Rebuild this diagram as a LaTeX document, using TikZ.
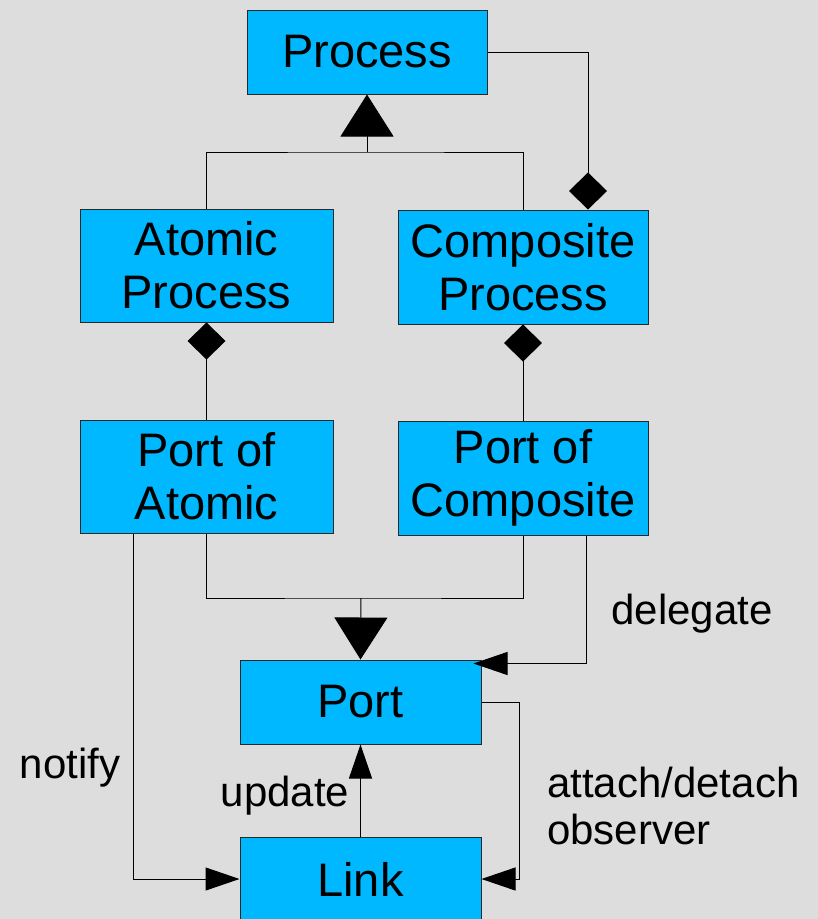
\documentclass[tikz,border=0pt]{standalone}
\usepackage{fontspec}
\setmainfont{Liberation Sans}
\usetikzlibrary{arrows.meta}
\definecolor{bgray}{RGB}{221,221,221}
\definecolor{boxcyan}{RGB}{0,184,255}
\definecolor{edgegray}{RGB}{40,40,40}
\begin{document}
\begin{tikzpicture}[x=1pt,y=-1pt,
  cls/.style={draw=edgegray,line width=1pt,fill=boxcyan,inner sep=0pt,align=center,
    font=\fontsize{47}{53}\selectfont},
  lbl/.style={inner sep=0pt,font=\fontsize{42}{47}\selectfont},
  conn/.style={line width=1pt,draw=black},
  gen/.style={-{Triangle[length=42pt,width=53pt]}},
  comp/.style={{Diamond[length=37pt,width=38pt]}-},
  msg/.style={-{Triangle[length=34pt,width=23pt]}}]
  \useasboundingbox (0,0) rectangle (818,919);
  \fill[bgray] (0,0) rectangle (818,919);

  % classes
  \node[cls,minimum width=240pt,minimum height=84pt] (proc) at (367,52) {Process};
  \node[cls,minimum width=253pt,minimum height=113pt] (atom) at (206.5,265.5) {Atomic\\Process};
  \node[cls,minimum width=250pt,minimum height=114pt] (cmp) at (523,267) {Composite\\Process};
  \node[cls,minimum width=253pt,minimum height=113pt] (patom) at (206.5,476.5) {Port of\\Atomic};
  \node[cls,minimum width=250pt,minimum height=114pt] (pcomp) at (523,478) {Port of\\Composite};
  \node[cls,minimum width=241pt,minimum height=84pt] (port) at (360.5,702) {Port};
  \node[cls,minimum width=241pt,minimum height=84pt] (link) at (360.5,879) {Link};

  % inheritance of processes
  \coordinate (gj) at (367,152);
  \draw[conn] (atom.north) |- (gj) -| (cmp.north);
  \draw[conn,gen] (gj) -- (proc.south);

  % composite contains processes
  \draw[conn,-{Diamond[length=37pt,width=38pt]}] (proc.east) -| ([xshift=65pt]cmp.north);

  % processes own their ports
  \draw[conn,comp] (atom.south) -- (patom.north);
  \draw[conn,comp] (cmp.south) -- (pcomp.north);

  % inheritance of ports
  \coordinate (pj) at (361,598);
  \draw[conn] (patom.south) |- (pj) -| (pcomp.south);
  \draw[conn,gen] (pj) -- (port.north);

  % delegate
  \draw[conn,msg,shorten >=-8pt] ([xshift=63pt]pcomp.south) |- ([yshift=-4pt]port.north east);
  \node[lbl] (ldel) at (692,614) {delegate};

  % notify
  \draw[conn,msg] ([xshift=-73.5pt]patom.south) |- (link.west);
  \node[lbl] (lnot) at (70,768) {notify};

  % update
  \draw[conn,msg] (link.north) -- (port.south);
  \node[lbl] (lupd) at (285,796) {update};

  % attach/detach observer
  \draw[conn,msg] (port.east) -- ++(38pt,0) |- (link.east);
  \node[lbl,align=left,anchor=west] (latt) at (547,806) {attach/detach\\observer};
\end{tikzpicture}
\end{document}
